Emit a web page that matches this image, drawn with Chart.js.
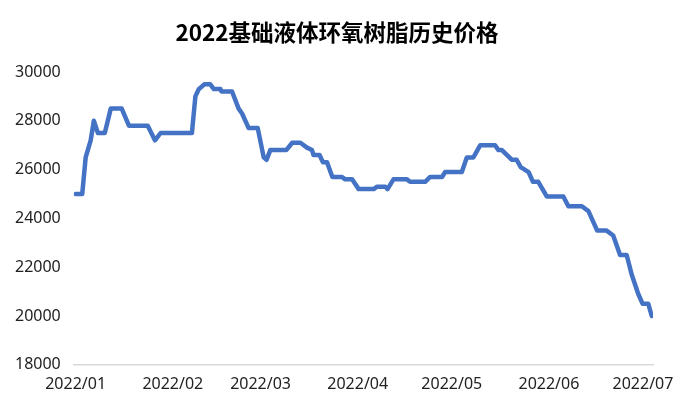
<!DOCTYPE html>
<html>
<head>
<meta charset="utf-8">
<script src="https://cdn.jsdelivr.net/npm/chart.js@4/dist/chart.umd.min.js"></script>
<style>
  html, body { margin: 0; padding: 0; background: #fff; }
  #wrap { width: 685px; height: 406px; }
</style>
</head>
<body>
<div id="wrap"><canvas id="priceChart" width="685" height="406"></canvas></div>
<script>
// 2022 基础液体环氧树脂 历史价格 (元/吨), x = 距 2022-01-01 的天数
const dayIndex = [
  0, 2.1, 3.2, 4.8, 5.8, 7.1, 9.3, 11.2, 14.7, 17, 23, 25.3, 27.1, 37.1,
  38.2, 39.3, 41.1, 42.9, 44.1, 46.2, 46.5, 49.9, 52, 53.1, 55.2, 58.1,
  60, 60.9, 62.1, 67.2, 69.1, 71.7, 73.8, 75.4, 75.9, 77.8, 78.9, 80.2,
  81.9, 85, 86, 88.2, 90.3, 95.1, 96.1, 98.8, 99.5, 101.4, 105.7, 106.7,
  111.5, 113.1, 116.9, 117.9, 123.2, 124.8, 126.9, 129.1, 133.8, 134.9,
  136, 139.2, 140.7, 142, 144.5, 145.9, 147.6, 150.3, 155.6, 157.2,
  161.5, 163.6, 166.4, 169.4, 171.5, 173.7, 175.8, 177.4, 179.5, 180.9,
  182.7, 183.8
];
const price = [
  25000, 25000, 26500, 27200, 28000, 27500, 27500, 28500, 28500, 27800, 27800, 27200, 27500, 27500,
  29000, 29300, 29500, 29500, 29300, 29300, 29200, 29200, 28500, 28300, 27700, 27700,
  26500, 26400, 26800, 26800, 27100, 27100, 26900, 26800, 26600, 26600, 26300, 26300,
  25700, 25700, 25600, 25600, 25200, 25200, 25300, 25300, 25200, 25600, 25600, 25500,
  25500, 25700, 25700, 25900, 25900, 26500, 26500, 27000, 27000, 26800,
  26800, 26400, 26400, 26100, 25900, 25500, 25500, 24900, 24900, 24500,
  24500, 24300, 23500, 23500, 23300, 22500, 22500, 21700, 20900, 20500,
  20500, 20000
];

// 月份刻度
const tickDays = [0, 31, 59, 90, 120, 151, 181];
const tickLabels = ['2022/01', '2022/02', '2022/03', '2022/04', '2022/05', '2022/06', '2022/07'];

const TITLE = '2022基础液体环氧树脂历史价格';

const points = dayIndex.map((d, i) => ({ x: d, y: price[i] }));

// 标题稍微偏右，自己画
const titlePlugin = {
  id: 'titleText',
  afterDraw(chart) {
    const c = chart.ctx;
    c.save();
    c.font = 'bold 22.5px "Noto Sans CJK SC", "Noto Sans", sans-serif';
    c.fillStyle = '#000';
    c.textAlign = 'center';
    c.textBaseline = 'middle';
    c.fillText(TITLE, 337, 32);
    c.restore();
  }
};

const ctx = document.getElementById('priceChart').getContext('2d');
new Chart(ctx, {
  type: 'line',
  plugins: [titlePlugin],
  data: {
    datasets: [{
      label: '价格',
      data: points,
      borderColor: '#4472C4',
      borderWidth: 4.5,
      borderJoinStyle: 'round',
      borderCapStyle: 'round',
      pointRadius: 0,
      tension: 0,
      fill: false
    }]
  },
  options: {
    responsive: false,
    animation: false,
    layout: { padding: { left: 2, right: 32, top: 72, bottom: 2 } },
    plugins: {
      legend: { display: false },
      tooltip: { enabled: false },
      title: { display: false }
    },
    scales: {
      x: {
        type: 'linear',
        min: -0.6,
        max: 184.2,
        grid: { display: false, drawTicks: false },
        border: { display: true, color: '#d9d9d9', width: 1.5 },
        afterBuildTicks: (scale) => { scale.ticks = tickDays.map(v => ({ value: v })); },
        ticks: {
          autoSkip: false,
          maxRotation: 0,
          padding: 10,
          color: '#222',
          font: { family: '"Noto Sans", sans-serif', size: 16 },
          callback: (v) => tickLabels[tickDays.indexOf(v)]
        }
      },
      y: {
        min: 18000,
        max: 30000,
        grid: { display: false, drawTicks: false },
        border: { display: false },
        ticks: {
          stepSize: 2000,
          padding: 13,
          color: '#222',
          font: { family: '"Noto Sans", sans-serif', size: 16 },
          callback: (v) => String(v)
        }
      }
    }
  }
});
</script>
</body>
</html>
